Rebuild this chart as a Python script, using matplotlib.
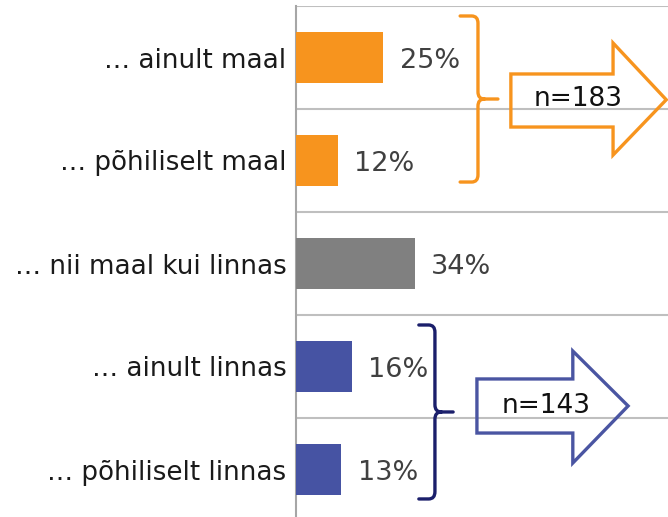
import matplotlib
matplotlib.use("Agg")
import matplotlib.pyplot as plt
from matplotlib.path import Path
from matplotlib.patches import PathPatch, Polygon

categories = ["… ainult maal", "… põhiliselt maal", "… nii maal kui linnas",
              "… ainult linnas", "… põhiliselt linnas"]
values = [25, 12, 34, 16, 13]
colors = ["#F7941E", "#F7941E", "#808080", "#4653A3", "#4653A3"]
value_labels = ["25%", "12%", "34%", "16%", "13%"]
group_labels = ["n=183", "n=143"]

fig = plt.figure(figsize=(6.68, 5.17), dpi=100)
ax = fig.add_axes([296/668, -4/517, 372/668, 515/517])

y = list(range(len(categories)))
ax.barh(y, values, height=0.5, color=colors, zorder=3)
ax.set_xlim(0, 106.3)
ax.set_ylim(4.5, -0.5)

ax.set_yticks(y)
ax.set_yticklabels(categories, fontsize=18.8, color="#1a1a1a")
ax.tick_params(axis="y", length=0, pad=7)
ax.set_yticks([i - 0.5 for i in range(len(categories) + 1)], minor=True)
ax.tick_params(axis="y", which="minor", length=0)
ax.grid(axis="y", which="minor", color="#BFBFBF", lw=1.5, zorder=0)
ax.set_xticks([])
for s in ["top", "right", "bottom"]:
    ax.spines[s].set_visible(False)
ax.spines["left"].set_color("#A6A6A6")
ax.spines["left"].set_linewidth(1.5)

for yi, v, lab in zip(y, values, value_labels):
    ax.text(v + 4.6, yi + 0.03, lab, va="center", ha="left", fontsize=19.5,
            color="#404040")


def bracket(x0, xv, xt, ytop, ybot, color):
    ym = (ytop + ybot) / 2
    r = 0.07
    rx = 1.8
    verts = [(x0, ytop), (xv - rx, ytop), (xv, ytop), (xv, ytop + r),
             (xv, ym - r), (xv, ym), (xv + rx, ym), (xt, ym),
             (xv + rx, ym), (xv, ym), (xv, ym + r),
             (xv, ybot - r), (xv, ybot), (xv - rx, ybot), (x0, ybot)]
    codes = [Path.MOVETO, Path.LINETO, Path.CURVE3, Path.CURVE3,
             Path.LINETO, Path.CURVE3, Path.CURVE3, Path.LINETO,
             Path.MOVETO, Path.CURVE3, Path.CURVE3,
             Path.LINETO, Path.CURVE3, Path.CURVE3, Path.LINETO]
    ax.add_patch(PathPatch(Path(verts, codes), fill=False, edgecolor=color,
                           lw=2.4, capstyle="round", joinstyle="round",
                           zorder=4, clip_on=False))


def arrow(xb0, xb1, xtip, yb0, yb1, yh0, yh1, ytip, color):
    pts = [(xb0, yb0), (xb1, yb0), (xb1, yh0), (xtip, ytip), (xb1, yh1),
           (xb1, yb1), (xb0, yb1)]
    ax.add_patch(Polygon(pts, closed=True, fill=False, edgecolor=color,
                         lw=2.4, joinstyle="miter", zorder=4, clip_on=False))


bracket(46.9, 52.0, 57.7, -0.403, 1.209, "#F7941E")
arrow(61.4, 90.6, 105.8, 0.160, 0.675, -0.141, 0.947, 0.41, "#F7941E")
ax.text(80.5, 0.40, group_labels[0], ha="center", va="center", fontsize=19,
        color="#111111", zorder=5)

bracket(35.1, 39.7, 44.9, 2.597, 4.286, "#1B1F6B")
arrow(51.7, 79.1, 94.9, 3.121, 3.646, 2.850, 3.937, 3.383, "#4A55A2")
ax.text(71.6, 3.38, group_labels[1], ha="center", va="center", fontsize=19,
        color="#111111", zorder=5)

fig.savefig("out.png", dpi=100)
